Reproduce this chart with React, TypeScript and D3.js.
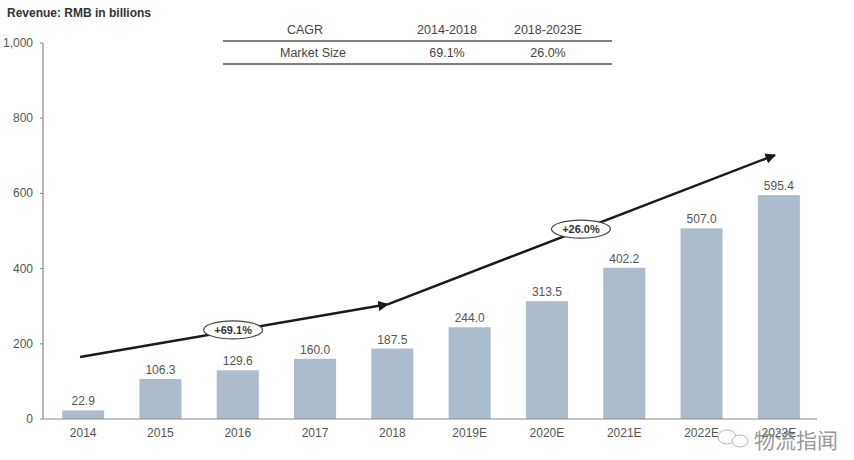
import React from "react";
import * as d3 from "d3";

const categories = ["2014", "2015", "2016", "2017", "2018", "2019E", "2020E", "2021E", "2022E", "2023E"];
const revenue = [22.9, 106.3, 129.6, 160.0, 187.5, 244.0, 313.5, 402.2, 507.0, 595.4];
const yTicks = [0, 200, 400, 600, 800, 1000];
const tableHeader = ["CAGR", "2014-2018", "2018-2023E"];
const tableRow = ["Market Size", "69.1%", "26.0%"];
// arrow annotation points: [category, offset in steps, value]
const arrow1: [string, number, number][] = [["2014", -0.04, 165], ["2018", -0.06, 305]];
const arrow2: [string, number, number][] = [["2018", -0.06, 305], ["2023E", -0.05, 702]];
const cagrLabels: [string, number, number, string][] = [
  ["2016", -0.06, 237, "+69.1%"],
  ["2020E", 0.44, 505, "+26.0%"],
];

const W = 854;
const H = 460;
const font = "'Liberation Sans', Arial, Helvetica, sans-serif";

export default function App() {
  const x = d3.scaleBand<string>().domain(categories).range([44.5, 817.5]).paddingInner(0.456).paddingOuter(0.228);
  const y = d3.scaleLinear().domain([0, 1000]).range([419, 43]);
  const fmt = d3.format(",");
  const px = (c: string, off: number) => (x(c) as number) + x.bandwidth() / 2 + off * x.step();
  const line = d3.line<[string, number, number]>().x((d) => px(d[0], d[1])).y((d) => y(d[2]));

  const tCols = [305, 447, 548];
  return (
    <svg width={W} height={H} style={{ position: "absolute", left: 0, top: 0, background: "#fff" }} fontFamily={font}>
      <defs>
        <marker id="ah" viewBox="0 0 10 10" refX="9" refY="5" markerWidth="4.2" markerHeight="4.2" orient="auto">
          <path d="M0,0 L10,5 L0,10 z" fill="#1a1a1a" />
        </marker>
      </defs>
      <text x={7} y={17} fontSize={12} fontWeight="bold" fill="#333">Revenue: RMB in billions</text>

      {/* table */}
      {tableHeader.map((t, i) => (
        <text key={"h" + i} x={tCols[i]} y={34} fontSize={12.5} textAnchor="middle" fill="#444">{t}</text>
      ))}
      <line x1={223} x2={612} y1={41} y2={41} stroke="#555" strokeWidth={1.5} />
      {tableRow.map((t, i) => (
        <text key={"r" + i} x={tCols[i] + (i === 0 ? 8 : 0)} y={57} fontSize={12.5} textAnchor="middle" fill="#444">{t}</text>
      ))}
      <line x1={223} x2={612} y1={64} y2={64} stroke="#555" strokeWidth={1.5} />

      {/* y axis */}
      <line x1={43} x2={43} y1={y(1000)} y2={y(0)} stroke="#888" strokeWidth={1.2} />
      {yTicks.map((t) => (
        <g key={t}>
          <line x1={40} x2={43} y1={y(t)} y2={y(t)} stroke="#888" />
          <text x={33} y={y(t) + 4} fontSize={12} textAnchor="end" fill="#555">{fmt(t)}</text>
        </g>
      ))}

      {/* bars */}
      {categories.map((c, i) => (
        <g key={c}>
          <rect x={x(c)} y={y(revenue[i])} width={x.bandwidth()} height={y(0) - y(revenue[i])} fill="#adbccd" />
          <text x={px(c, 0)} y={y(revenue[i]) - 5} fontSize={12} textAnchor="middle" fill="#555">{revenue[i].toFixed(1)}</text>
          <text x={px(c, 0)} y={437} fontSize={12} textAnchor="middle" fill="#555">{c}</text>
        </g>
      ))}
      <line x1={43} x2={817} y1={y(0)} y2={y(0)} stroke="#888" strokeWidth={1.2} />

      {/* arrows */}
      <path d={line(arrow1) as string} fill="none" stroke="#1a1a1a" strokeWidth={2.5} markerEnd="url(#ah)" />
      <path d={line(arrow2) as string} fill="none" stroke="#1a1a1a" strokeWidth={2.5} markerEnd="url(#ah)" />
      {cagrLabels.map(([c, off, v, t]) => (
        <g key={t}>
          <ellipse cx={px(c, off)} cy={y(v)} rx={29.5} ry={9} fill="#fff" stroke="#444" strokeWidth={1.2} />
          <text x={px(c, off)} y={y(v) + 4} fontSize={11} fontWeight="bold" textAnchor="middle" fill="#333">{t}</text>
        </g>
      ))}

      {/* watermark */}
      <g opacity={0.85}>
        <ellipse cx={727} cy={437} rx={9} ry={7} fill="#fff" stroke="#aaa" strokeWidth={1} />
        <ellipse cx={740} cy={441} rx={8} ry={6} fill="#fff" stroke="#aaa" strokeWidth={1} />
        <text x={754} y={448} fontSize={21} fill="#888" fontFamily="'Noto Sans CJK SC', sans-serif">物流指闻</text>
      </g>
    </svg>
  );
}
